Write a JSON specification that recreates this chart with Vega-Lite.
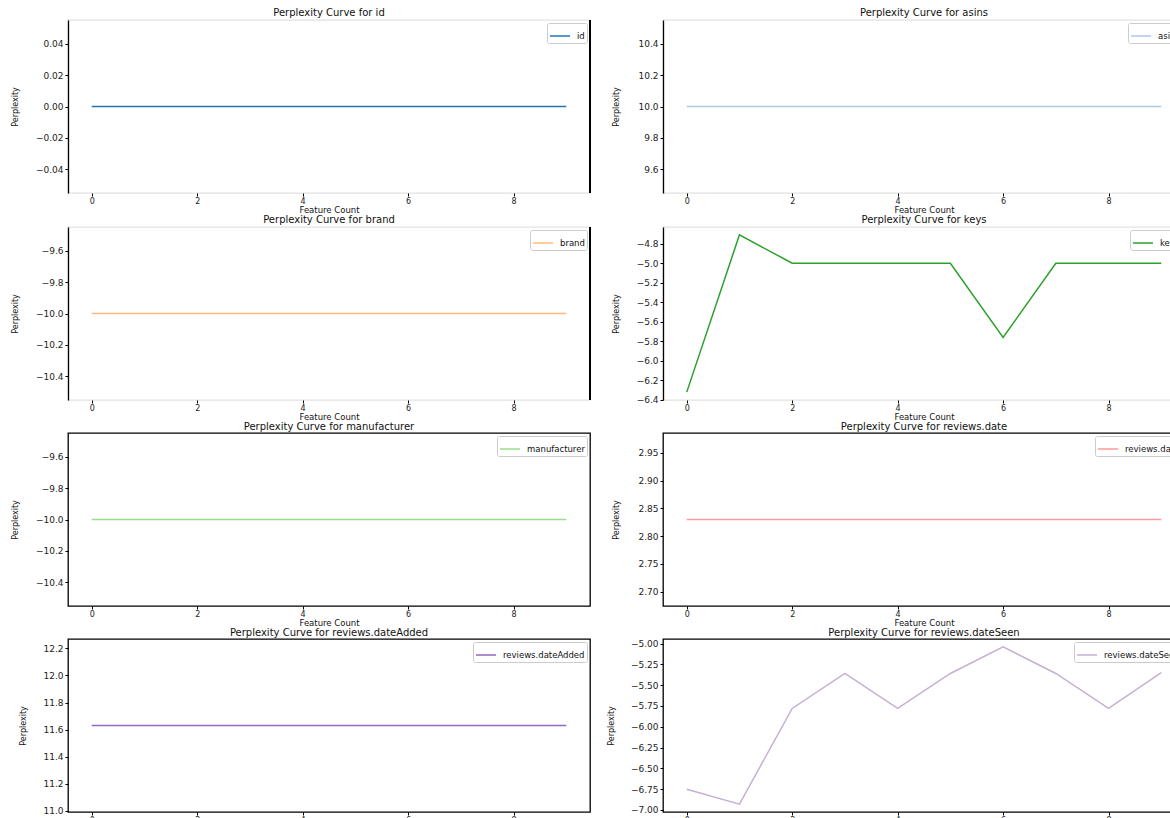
{
  "$schema": "https://vega.github.io/schema/vega-lite/v6.json",
  "padding": {"left": 10, "top": 7, "right": 0, "bottom": 0},
  "background": "white",
  "data": {"values": [
    {"attribute": "id", "count": 0, "perplexity": 0}, {"attribute": "id", "count": 1, "perplexity": 0}, {"attribute": "id", "count": 2, "perplexity": 0}, {"attribute": "id", "count": 3, "perplexity": 0}, {"attribute": "id", "count": 4, "perplexity": 0}, {"attribute": "id", "count": 5, "perplexity": 0}, {"attribute": "id", "count": 6, "perplexity": 0}, {"attribute": "id", "count": 7, "perplexity": 0}, {"attribute": "id", "count": 8, "perplexity": 0}, {"attribute": "id", "count": 9, "perplexity": 0},
    {"attribute": "asins", "count": 0, "perplexity": 10.0}, {"attribute": "asins", "count": 1, "perplexity": 10.0}, {"attribute": "asins", "count": 2, "perplexity": 10.0}, {"attribute": "asins", "count": 3, "perplexity": 10.0}, {"attribute": "asins", "count": 4, "perplexity": 10.0}, {"attribute": "asins", "count": 5, "perplexity": 10.0}, {"attribute": "asins", "count": 6, "perplexity": 10.0}, {"attribute": "asins", "count": 7, "perplexity": 10.0}, {"attribute": "asins", "count": 8, "perplexity": 10.0}, {"attribute": "asins", "count": 9, "perplexity": 10.0},
    {"attribute": "brand", "count": 0, "perplexity": -10.0}, {"attribute": "brand", "count": 1, "perplexity": -10.0}, {"attribute": "brand", "count": 2, "perplexity": -10.0}, {"attribute": "brand", "count": 3, "perplexity": -10.0}, {"attribute": "brand", "count": 4, "perplexity": -10.0}, {"attribute": "brand", "count": 5, "perplexity": -10.0}, {"attribute": "brand", "count": 6, "perplexity": -10.0}, {"attribute": "brand", "count": 7, "perplexity": -10.0}, {"attribute": "brand", "count": 8, "perplexity": -10.0}, {"attribute": "brand", "count": 9, "perplexity": -10.0},
    {"attribute": "keys", "count": 0, "perplexity": -6.32}, {"attribute": "keys", "count": 1, "perplexity": -4.71}, {"attribute": "keys", "count": 2, "perplexity": -5.0}, {"attribute": "keys", "count": 3, "perplexity": -5.0}, {"attribute": "keys", "count": 4, "perplexity": -5.0}, {"attribute": "keys", "count": 5, "perplexity": -5.0}, {"attribute": "keys", "count": 6, "perplexity": -5.76}, {"attribute": "keys", "count": 7, "perplexity": -5.0}, {"attribute": "keys", "count": 8, "perplexity": -5.0}, {"attribute": "keys", "count": 9, "perplexity": -5.0},
    {"attribute": "manufacturer", "count": 0, "perplexity": -10.0}, {"attribute": "manufacturer", "count": 1, "perplexity": -10.0}, {"attribute": "manufacturer", "count": 2, "perplexity": -10.0}, {"attribute": "manufacturer", "count": 3, "perplexity": -10.0}, {"attribute": "manufacturer", "count": 4, "perplexity": -10.0}, {"attribute": "manufacturer", "count": 5, "perplexity": -10.0}, {"attribute": "manufacturer", "count": 6, "perplexity": -10.0}, {"attribute": "manufacturer", "count": 7, "perplexity": -10.0}, {"attribute": "manufacturer", "count": 8, "perplexity": -10.0}, {"attribute": "manufacturer", "count": 9, "perplexity": -10.0},
    {"attribute": "reviews.date", "count": 0, "perplexity": 2.83}, {"attribute": "reviews.date", "count": 1, "perplexity": 2.83}, {"attribute": "reviews.date", "count": 2, "perplexity": 2.83}, {"attribute": "reviews.date", "count": 3, "perplexity": 2.83}, {"attribute": "reviews.date", "count": 4, "perplexity": 2.83}, {"attribute": "reviews.date", "count": 5, "perplexity": 2.83}, {"attribute": "reviews.date", "count": 6, "perplexity": 2.83}, {"attribute": "reviews.date", "count": 7, "perplexity": 2.83}, {"attribute": "reviews.date", "count": 8, "perplexity": 2.83}, {"attribute": "reviews.date", "count": 9, "perplexity": 2.83},
    {"attribute": "reviews.dateAdded", "count": 0, "perplexity": 11.63}, {"attribute": "reviews.dateAdded", "count": 1, "perplexity": 11.63}, {"attribute": "reviews.dateAdded", "count": 2, "perplexity": 11.63}, {"attribute": "reviews.dateAdded", "count": 3, "perplexity": 11.63}, {"attribute": "reviews.dateAdded", "count": 4, "perplexity": 11.63}, {"attribute": "reviews.dateAdded", "count": 5, "perplexity": 11.63}, {"attribute": "reviews.dateAdded", "count": 6, "perplexity": 11.63}, {"attribute": "reviews.dateAdded", "count": 7, "perplexity": 11.63}, {"attribute": "reviews.dateAdded", "count": 8, "perplexity": 11.63}, {"attribute": "reviews.dateAdded", "count": 9, "perplexity": 11.63},
    {"attribute": "reviews.dateSeen", "count": 0, "perplexity": -6.75}, {"attribute": "reviews.dateSeen", "count": 1, "perplexity": -6.93}, {"attribute": "reviews.dateSeen", "count": 2, "perplexity": -5.78}, {"attribute": "reviews.dateSeen", "count": 3, "perplexity": -5.36}, {"attribute": "reviews.dateSeen", "count": 4, "perplexity": -5.78}, {"attribute": "reviews.dateSeen", "count": 5, "perplexity": -5.36}, {"attribute": "reviews.dateSeen", "count": 6, "perplexity": -5.04}, {"attribute": "reviews.dateSeen", "count": 7, "perplexity": -5.36}, {"attribute": "reviews.dateSeen", "count": 8, "perplexity": -5.78}, {"attribute": "reviews.dateSeen", "count": 9, "perplexity": -5.35}
  ]},
  "columns": 2,
  "spacing": {"row": -1, "column": 14},
  "resolve": {"scale": {"color": "independent", "x": "independent", "y": "independent"}, "legend": {"color": "independent"}},
  "concat": [
    {
      "title": "Perplexity Curve for id",
      "width": 522, "height": 173,
      "view": {"stroke": "#e2e2e2"},
      "transform": [{"filter": "datum.attribute == 'id'"}],
      "layer": [
        {"mark": {"type": "line", "strokeWidth": 1.5},
         "encoding": {
          "x": {"field": "count", "type": "quantitative", "scale": {"domain": [-0.45, 9.45], "nice": false, "zero": false}, "axis": {"values": [0, 2, 4, 6, 8], "title": "Feature Count"}},
          "y": {"field": "perplexity", "type": "quantitative", "scale": {"domain": [-0.055, 0.055], "nice": false, "zero": false}, "axis": {"values": [-0.04, -0.02, 0, 0.02, 0.04], "format": ".2f", "title": "Perplexity", "minExtent": 49, "maxExtent": 49, "domain": true, "domainColor": "#000000", "domainWidth": 1.3}},
          "color": {"field": "attribute", "type": "nominal", "scale": {"range": ["#1f77b4"]}, "legend": {"title": null}}
         }},
        {"mark": {"type": "rule", "color": "#000", "strokeWidth": 1.3}, "encoding": {"x": {"datum": 9.45}}}
      ]
    },
    {
      "title": "Perplexity Curve for asins",
      "width": 522, "height": 173,
      "view": {"stroke": "#e2e2e2"},
      "transform": [{"filter": "datum.attribute == 'asins'"}],
      "layer": [
        {"mark": {"type": "line", "strokeWidth": 1.5},
         "encoding": {
          "x": {"field": "count", "type": "quantitative", "scale": {"domain": [-0.45, 9.45], "nice": false, "zero": false}, "axis": {"values": [0, 2, 4, 6, 8], "title": "Feature Count"}},
          "y": {"field": "perplexity", "type": "quantitative", "scale": {"domain": [9.45, 10.55], "nice": false, "zero": false}, "axis": {"values": [9.6, 9.8, 10.0, 10.2, 10.4], "format": ".1f", "title": "Perplexity", "minExtent": 43, "maxExtent": 43, "domain": true, "domainColor": "#000000", "domainWidth": 1.3}},
          "color": {"field": "attribute", "type": "nominal", "scale": {"range": ["#aec7e8"]}, "legend": {"title": null}}
         }},
        {"mark": {"type": "rule", "color": "#000", "strokeWidth": 1.3}, "encoding": {"x": {"datum": 9.45}}}
      ]
    },
    {
      "title": "Perplexity Curve for brand",
      "width": 522, "height": 173,
      "view": {"stroke": "#e2e2e2"},
      "transform": [{"filter": "datum.attribute == 'brand'"}],
      "layer": [
        {"mark": {"type": "line", "strokeWidth": 1.5},
         "encoding": {
          "x": {"field": "count", "type": "quantitative", "scale": {"domain": [-0.45, 9.45], "nice": false, "zero": false}, "axis": {"values": [0, 2, 4, 6, 8], "title": "Feature Count"}},
          "y": {"field": "perplexity", "type": "quantitative", "scale": {"domain": [-10.55, -9.45], "nice": false, "zero": false}, "axis": {"values": [-10.4, -10.2, -10.0, -9.8, -9.6], "format": ".1f", "title": "Perplexity", "minExtent": 49, "maxExtent": 49, "domain": true, "domainColor": "#000000", "domainWidth": 1.3}},
          "color": {"field": "attribute", "type": "nominal", "scale": {"range": ["#ffbb78"]}, "legend": {"title": null}}
         }},
        {"mark": {"type": "rule", "color": "#000", "strokeWidth": 1.3}, "encoding": {"x": {"datum": 9.45}}}
      ]
    },
    {
      "title": "Perplexity Curve for keys",
      "width": 522, "height": 173,
      "view": {"stroke": "#e2e2e2"},
      "transform": [{"filter": "datum.attribute == 'keys'"}],
      "layer": [
        {"mark": {"type": "line", "strokeWidth": 1.5},
         "encoding": {
          "x": {"field": "count", "type": "quantitative", "scale": {"domain": [-0.45, 9.45], "nice": false, "zero": false}, "axis": {"values": [0, 2, 4, 6, 8], "title": "Feature Count"}},
          "y": {"field": "perplexity", "type": "quantitative", "scale": {"domain": [-6.4005, -4.6295], "nice": false, "zero": false}, "axis": {"values": [-6.4, -6.2, -6.0, -5.8, -5.6, -5.4, -5.2, -5.0, -4.8], "format": ".1f", "title": "Perplexity", "minExtent": 43, "maxExtent": 43, "domain": true, "domainColor": "#000000", "domainWidth": 1.3}},
          "color": {"field": "attribute", "type": "nominal", "scale": {"range": ["#2ca02c"]}, "legend": {"title": null}}
         }},
        {"mark": {"type": "rule", "color": "#000", "strokeWidth": 1.3}, "encoding": {"x": {"datum": 9.45}}}
      ]
    },
    {
      "title": "Perplexity Curve for manufacturer",
      "width": 522, "height": 173,
      "transform": [{"filter": "datum.attribute == 'manufacturer'"}],
      "mark": {"type": "line", "strokeWidth": 1.5},
      "encoding": {
        "x": {"field": "count", "type": "quantitative", "scale": {"domain": [-0.45, 9.45], "nice": false, "zero": false}, "axis": {"values": [0, 2, 4, 6, 8], "title": "Feature Count"}},
        "y": {"field": "perplexity", "type": "quantitative", "scale": {"domain": [-10.55, -9.45], "nice": false, "zero": false}, "axis": {"values": [-10.4, -10.2, -10.0, -9.8, -9.6], "format": ".1f", "title": "Perplexity", "minExtent": 49, "maxExtent": 49}},
        "color": {"field": "attribute", "type": "nominal", "scale": {"range": ["#98df8a"]}, "legend": {"title": null}}
      }
    },
    {
      "title": "Perplexity Curve for reviews.date",
      "width": 522, "height": 173,
      "transform": [{"filter": "datum.attribute == 'reviews.date'"}],
      "mark": {"type": "line", "strokeWidth": 1.5},
      "encoding": {
        "x": {"field": "count", "type": "quantitative", "scale": {"domain": [-0.45, 9.45], "nice": false, "zero": false}, "axis": {"values": [0, 2, 4, 6, 8], "title": "Feature Count"}},
        "y": {"field": "perplexity", "type": "quantitative", "scale": {"domain": [2.67435, 2.98565], "nice": false, "zero": false}, "axis": {"values": [2.7, 2.75, 2.8, 2.85, 2.9, 2.95], "format": ".2f", "title": "Perplexity", "minExtent": 43, "maxExtent": 43}},
        "color": {"field": "attribute", "type": "nominal", "scale": {"range": ["#ff9896"]}, "legend": {"title": null}}
      }
    },
    {
      "title": "Perplexity Curve for reviews.dateAdded",
      "width": 522, "height": 173,
      "transform": [{"filter": "datum.attribute == 'reviews.dateAdded'"}],
      "mark": {"type": "line", "strokeWidth": 1.5},
      "encoding": {
        "x": {"field": "count", "type": "quantitative", "scale": {"domain": [-0.45, 9.45], "nice": false, "zero": false}, "axis": {"values": [0, 2, 4, 6, 8], "title": "Feature Count"}},
        "y": {"field": "perplexity", "type": "quantitative", "scale": {"domain": [10.99035, 12.26965], "nice": false, "zero": false}, "axis": {"values": [11.0, 11.2, 11.4, 11.6, 11.8, 12.0, 12.2], "format": ".1f", "title": "Perplexity", "minExtent": 41, "maxExtent": 41}},
        "color": {"field": "attribute", "type": "nominal", "scale": {"range": ["#9467bd"]}, "legend": {"title": null}}
      }
    },
    {
      "title": "Perplexity Curve for reviews.dateSeen",
      "width": 522, "height": 173,
      "transform": [{"filter": "datum.attribute == 'reviews.dateSeen'"}],
      "mark": {"type": "line", "strokeWidth": 1.5},
      "encoding": {
        "x": {"field": "count", "type": "quantitative", "scale": {"domain": [-0.45, 9.45], "nice": false, "zero": false}, "axis": {"values": [0, 2, 4, 6, 8], "title": "Feature Count"}},
        "y": {"field": "perplexity", "type": "quantitative", "scale": {"domain": [-7.0245, -4.9455], "nice": false, "zero": false}, "axis": {"values": [-7.0, -6.75, -6.5, -6.25, -6.0, -5.75, -5.5, -5.25, -5.0], "format": ".2f", "title": "Perplexity", "minExtent": 48, "maxExtent": 48}},
        "color": {"field": "attribute", "type": "nominal", "scale": {"range": ["#c5b0d5"]}, "legend": {"title": null}}
      }
    }
  ],
  "config": {
    "font": "DejaVu Sans",
    "view": {"stroke": "#000000", "strokeWidth": 1.3},
    "axis": {"grid": false, "domain": false, "domainColor": "#000000", "domainWidth": 1.3, "tickColor": "#000000", "tickSize": 3, "labelColor": "#222222", "titleColor": "#111111", "labelFont": "DejaVu Sans", "titleFont": "DejaVu Sans", "titleFontWeight": "normal"},
    "axisX": {"labelFontSize": 8, "labelPadding": 1, "titleFontSize": 8.5, "titlePadding": 0},
    "axisY": {"labelFontSize": 9, "labelPadding": 2, "titleFontSize": 8, "titlePadding": 0},
    "title": {"fontSize": 10, "fontWeight": "normal", "offset": 1, "color": "#111111", "font": "DejaVu Sans"},
    "legend": {"orient": "top-right", "offset": 3, "padding": 2, "strokeColor": "#cccccc", "fillColor": "#ffffff", "cornerRadius": 2, "labelFontSize": 8.5, "labelFont": "DejaVu Sans", "labelColor": "#111111", "symbolType": "stroke", "symbolSize": 400, "symbolStrokeWidth": 1.5, "labelOffset": 6}
  }
}
